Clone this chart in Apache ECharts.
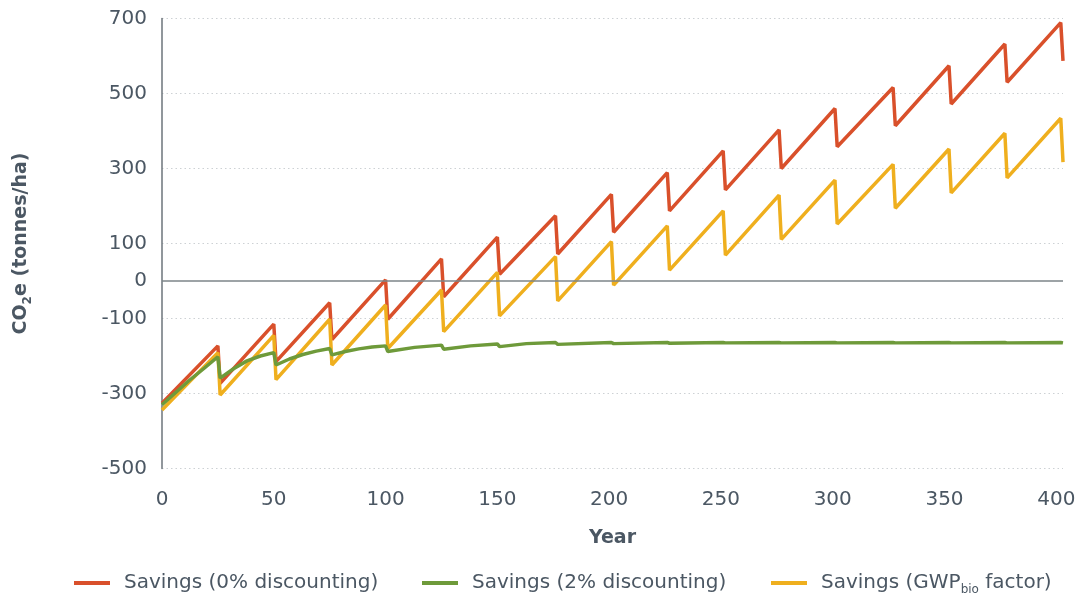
<html>

<head>
    <meta charset='utf-8' />
    <script src="https://cdn.jsdelivr.net/npm/echarts@6/dist/echarts.min.js"></script>
    <title>CO2e savings</title>
    <style>
        body {
            margin: 0;
            overflow: hidden;
            background: #ffffff;
        }

        #chart {
            width: 1083px;
            height: 602px;
        }
    </style>
</head>

<body>
    <div id="chart"></div>
    <script type="text/javascript">
        // harvest cycle vertices (year of peak, then year after harvest)
        var sawYears = [0, 25, 26, 50, 51, 75, 76, 100, 101, 125, 126, 150, 151, 176, 177, 201, 202,
            226, 227, 251, 252, 276, 277, 301, 302, 327, 328, 352, 353, 377, 378, 402, 403];
        var savings0 = [-326, -173, -273, -115, -215, -58, -156, 3, -102, 59, -42, 117, 18, 174, 72, 231, 130,
            289, 187, 347, 243, 403, 300, 460, 358, 516, 414, 574, 472, 632, 530, 689, 587];
        var savingsGwp = [-344, -191, -304, -145, -263, -102, -224, -64, -180, -24, -135, 23, -93, 65, -53, 105, -11,
            147, 29, 187, 69, 229, 111, 269, 152, 311, 194, 352, 235, 394, 275, 434, 317];

        var greenYears = [0, 6, 12, 19, 25, 26, 32, 38, 44, 50, 51, 57, 63, 69, 75, 76, 82, 88, 94, 100,
            101, 113, 125, 126, 138, 150, 151, 163, 176, 177, 201, 202, 226, 227, 251, 252, 276, 277,
            301, 302, 327, 328, 352, 353, 377, 378, 402, 403];
        var savings2 = [-330, -298, -266, -232, -202, -259, -234, -213, -200, -191, -224, -208, -196, -187, -180,
            -197, -188, -181, -176, -173, -188, -177, -171, -182, -173, -168, -175, -167, -164, -169, -164, -167,
            -164, -166, -164, -165, -164, -165, -164, -165, -164, -165, -164, -165, -164, -165, -164, -165];

        var seriesNames = ['Savings (0% discounting)', 'Savings (2% discounting)', 'Savings (GWPbio factor)'];
        var seriesColors = ['#d9502b', '#6e9a3a', '#efaf1e'];

        var textColor = '#4b5763';
        var fontFamily = 'DejaVu Sans';

        function pairs(xs, ys) {
            var out = [];
            for (var i = 0; i < xs.length; i++) {
                out.push([xs[i], ys[i]]);
            }
            return out;
        }

        function legendLabel(name) {
            if (name === seriesNames[2]) {
                return '{t|Savings (GWP}{s|bio}{t| factor)}';
            }
            return '{t|' + name + '}';
        }

        function makeLegend(idx, left) {
            return {
                data: [seriesNames[idx]],
                left: left,
                top: 573,
                padding: 0,
                icon: 'rect',
                itemWidth: 36,
                itemHeight: 4,
                formatter: legendLabel,
                textStyle: {
                    padding: [0, 0, 0, 9],
                    rich: {
                        t: { fontSize: 20, fontFamily: fontFamily, color: textColor, lineHeight: 26 },
                        s: { fontSize: 12, fontFamily: fontFamily, color: textColor, lineHeight: 10, verticalAlign: 'bottom' }
                    }
                }
            };
        }

        var chart = echarts.init(document.getElementById('chart'));

        var option = {
            animation: false,
            backgroundColor: '#ffffff',
            grid: {
                left: 162,
                right: 20,
                top: 18.5,
                bottom: 133.5
            },
            legend: [makeLegend(0, 74), makeLegend(1, 422), makeLegend(2, 771)],
            xAxis: {
                type: 'value',
                min: 0,
                max: 403,
                interval: 50,
                name: 'Year',
                nameLocation: 'middle',
                nameGap: 60,
                nameTextStyle: {
                    fontSize: 19,
                    fontWeight: 'bold',
                    fontFamily: fontFamily,
                    color: textColor
                },
                axisLine: { show: false },
                axisTick: { show: false },
                splitLine: { show: false },
                axisLabel: {
                    margin: 21,
                    fontSize: 20,
                    fontFamily: fontFamily,
                    color: textColor,
                    showMaxLabel: false
                }
            },
            yAxis: {
                type: 'value',
                min: -500,
                max: 700,
                interval: 200,
                name: '{a|CO}{b|2}{a|e (tonnes/ha)}',
                nameLocation: 'middle',
                nameGap: 128,
                nameTextStyle: {
                    rich: {
                        a: { fontSize: 19, fontWeight: 'bold', fontFamily: fontFamily, color: textColor, lineHeight: 26 },
                        b: { fontSize: 12, fontWeight: 'bold', fontFamily: fontFamily, color: textColor, lineHeight: 10, verticalAlign: 'bottom' }
                    }
                },
                axisLine: {
                    show: true,
                    lineStyle: { color: '#6c747b', width: 1.5 }
                },
                axisTick: { show: false },
                axisLabel: {
                    margin: 15,
                    fontSize: 20,
                    fontFamily: fontFamily,
                    color: textColor
                },
                splitLine: {
                    show: true,
                    lineStyle: { color: '#cdd1d4', type: [1.5, 3], width: 1 }
                }
            },
            series: [{
                name: 'zero',
                type: 'line',
                data: [],
                z: 1,
                silent: true,
                markLine: {
                    silent: true,
                    symbol: 'none',
                    lineStyle: { color: '#7d8489', width: 1.5, type: 'solid' },
                    label: {
                        show: true,
                        position: 'start',
                        distance: 15,
                        formatter: '0',
                        fontSize: 20,
                        fontFamily: fontFamily,
                        color: textColor
                    },
                    data: [{ yAxis: 0 }]
                }
            }, {
                name: seriesNames[0],
                type: 'line',
                data: pairs(sawYears, savings0),
                showSymbol: false,
                z: 3,
                color: seriesColors[0],
                lineStyle: { width: 3.5, color: seriesColors[0] }
            }, {
                name: seriesNames[2],
                type: 'line',
                data: pairs(sawYears, savingsGwp),
                showSymbol: false,
                z: 4,
                color: seriesColors[2],
                lineStyle: { width: 3.5, color: seriesColors[2] }
            }, {
                name: seriesNames[1],
                type: 'line',
                data: pairs(greenYears, savings2),
                showSymbol: false,
                z: 5,
                color: seriesColors[1],
                lineStyle: { width: 3.5, color: seriesColors[1] }
            }]
        };

        chart.setOption(option);
    </script>
</body>

</html>
